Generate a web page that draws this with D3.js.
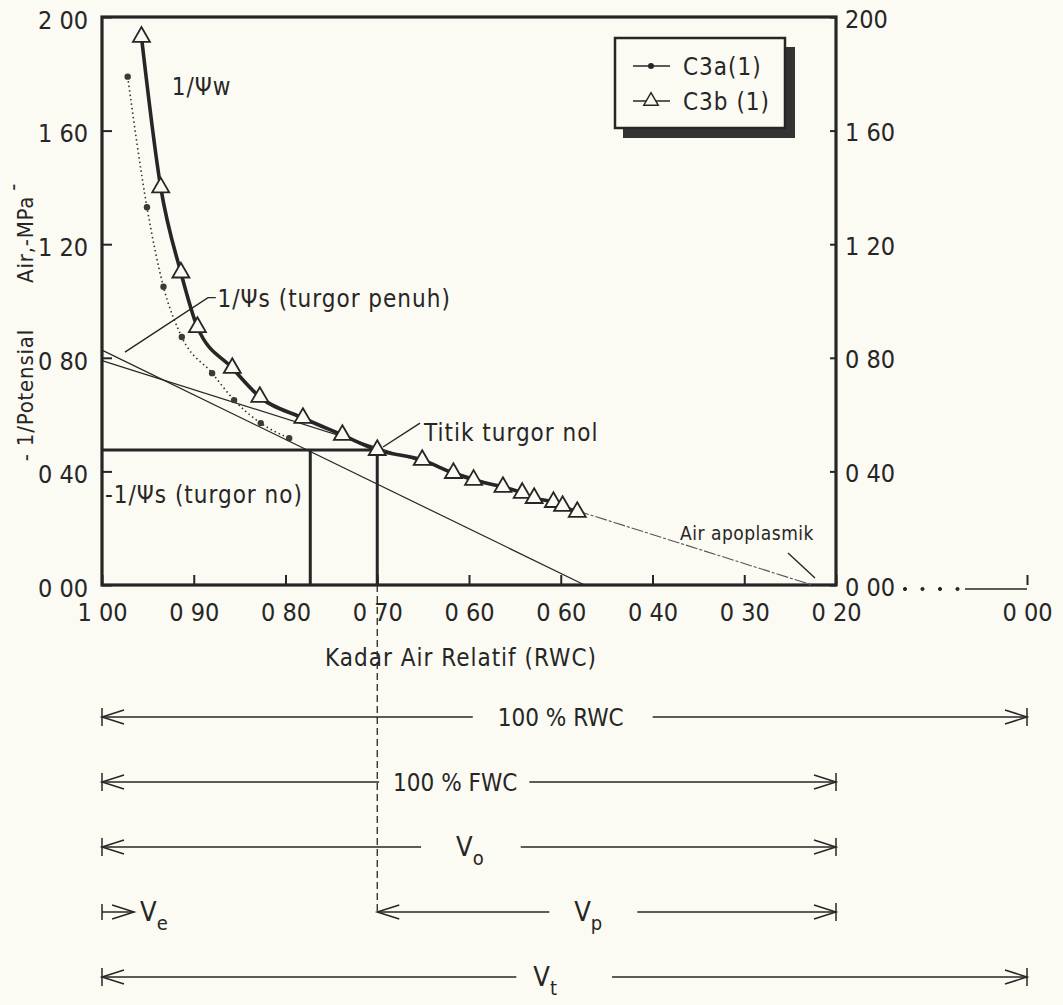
<!DOCTYPE html>
<html>
<head>
<meta charset="utf-8">
<title>Kurva tekanan-volume</title>
<script src="https://d3js.org/d3.v7.min.js"></script>
<style>
  body{margin:0;background:#fbfaf3;}
  svg{display:block;}
  text{font-family:"Liberation Sans Narrow","DejaVu Sans Condensed","Roboto Condensed",Roboto,sans-serif;fill:#262626;}
  .axis text{font-size:25px;}
  .lbl{font-size:24px;letter-spacing:1px;}
  .span{font-size:24px;}
  .small{font-size:19px;letter-spacing:0.5px;}
  .ylab{font-size:22px;letter-spacing:0.8px;}
</style>
</head>
<body>
<svg width="1063" height="1005"></svg>
<script>
// sumbu
var rwcTicks = [1.0, 0.9, 0.8, 0.7, 0.6, 0.5, 0.4, 0.3, 0.2, 0.0];
var rwcTickLabels = ['1 00', '0 90', '0 80', '0 70', '0 60', '0 60', '0 40', '0 30', '0 20', '0 00'];
var psiTicks = [0, 0.4, 0.8, 1.2, 1.6, 2.0];
var psiLeftLabels = ['0 00', '0 40', '0 80', '1 20', '1 60', '2 00'];
var psiRightLabels = ['0 00', '0 40', '0 80', '1 20', '1 60', '200'];

// C3a(1) - titik kecil, garis titik-titik
var c3aRwc = [0.972, 0.951, 0.933, 0.913, 0.880, 0.856, 0.827, 0.796];
var c3aPsi = [1.79, 1.33, 1.05, 0.873, 0.746, 0.651, 0.570, 0.517];

// C3b(1) - segitiga, garis tebal
var c3bRwc = [0.957, 0.936, 0.914, 0.896, 0.858, 0.828, 0.781, 0.738, 0.700, 0.651, 0.617, 0.595, 0.563, 0.542, 0.529, 0.508, 0.498, 0.482];
var c3bPsi = [1.93, 1.40, 1.10, 0.908, 0.764, 0.662, 0.588, 0.528, 0.475, 0.440, 0.394, 0.370, 0.345, 0.324, 0.306, 0.292, 0.278, 0.257];

// garis regresi
var fullTurgorRwc = [1.0, 0.474], fullTurgorPsi = [0.827, 0];
var apoplastRwc = [1.0, 0.226], apoplastPsi = [0.79, 0];

// titik turgor nol
var tlpRwc = 0.70, tlpPsi = 0.475, zeroTurgorRwc = 0.773;

// bentang volume di bawah grafik
var spanNames = ['100 % RWC', '100 % FWC', 'V', 'V', 'V', 'V'];
var spanSubs  = ['', '', 'o', 'e', 'p', 't'];
var spanFrom  = [1.00, 1.00, 1.00, 1.00, 0.70, 1.00];
var spanTo    = [0.00, 0.20, 0.20, 0.965, 0.20, 0.00];
var spanRow   = [0, 1, 2, 3, 3, 4];

var ink = '#262626';
var svg = d3.select('svg');
svg.append('rect').attr('width', 1063).attr('height', 1005).attr('fill', '#fbfaf3');

var x = d3.scaleLinear().domain([1.0, 0.2, 0.0]).range([102, 836, 1027]);
var y = d3.scaleLinear().domain([0, 2.0]).range([585, 17]);
var rowY = d3.scalePoint().domain([0, 1, 2, 3, 4]).range([717, 977]);

// bingkai
svg.append('rect')
  .attr('x', x(1)).attr('y', y(2))
  .attr('width', x(0.2) - x(1)).attr('height', y(0) - y(2))
  .attr('fill', 'none').attr('stroke', ink).attr('stroke-width', 3.2);

function styleAxis(g){
  g.select('.domain').remove();
  g.attr('font-family', null).attr('font-size', null);
  g.selectAll('line').attr('stroke', ink).attr('stroke-width', 2);
  g.selectAll('text').attr('fill', ink);
}

svg.append('g').attr('class', 'axis').attr('transform', 'translate(0,' + y(0) + ')')
  .call(d3.axisBottom(x).tickValues(rwcTicks).tickSize(-10).tickPadding(18)
    .tickFormat(function(d, i){ return rwcTickLabels[i]; }))
  .call(styleAxis);

svg.append('g').attr('class', 'axis').attr('transform', 'translate(' + x(1) + ',0)')
  .call(d3.axisLeft(y).tickValues(psiTicks).tickSize(-10).tickPadding(14)
    .tickFormat(function(d, i){ return psiLeftLabels[i]; }))
  .call(styleAxis)
  .selectAll('text').attr('dy', '0.45em');

svg.append('g').attr('class', 'axis').attr('transform', 'translate(' + x(0.2) + ',0)')
  .call(d3.axisRight(y).tickValues(psiTicks).tickSize(-6).tickPadding(9)
    .tickFormat(function(d, i){ return psiRightLabels[i]; }))
  .call(styleAxis)
  .selectAll('text').attr('dy', '0.4em');

// sambungan sumbu ke 0.00
var ext = svg.append('g').attr('stroke', ink);
ext.selectAll('circle').data(d3.range(4)).enter().append('circle')
  .attr('cx', function(d){ return x(0.2) + 69 + d * 17.5; })
  .attr('cy', y(0) + 4).attr('r', 1.6).attr('fill', ink);
ext.append('line').attr('x1', x(0) - 62).attr('x2', x(0))
  .attr('y1', y(0) + 4).attr('y2', y(0) + 4).attr('stroke-width', 1.5);

// garis regresi
var lineXY = d3.line().x(function(d){ return x(d[0]); }).y(function(d){ return y(d[1]); });
svg.append('path')
  .attr('d', lineXY(fullTurgorRwc.map(function(r, i){ return [r, fullTurgorPsi[i]]; })))
  .attr('fill', 'none').attr('stroke', ink).attr('stroke-width', 1.2);

var apo = d3.scaleLinear().domain(apoplastRwc).range(apoplastPsi);
var lastB = c3bRwc[c3bRwc.length - 1];
svg.append('path')
  .attr('d', lineXY([[apoplastRwc[0], apoplastPsi[0]], [lastB, apo(lastB)]]))
  .attr('fill', 'none').attr('stroke', ink).attr('stroke-width', 1.2);
svg.append('path')
  .attr('d', lineXY([[lastB, apo(lastB)], [apoplastRwc[1], apoplastPsi[1]]]))
  .attr('fill', 'none').attr('stroke', '#555').attr('stroke-width', 1.1)
  .attr('stroke-dasharray', '12,2,3,2');

// garis titik turgor nol
var tl = svg.append('g').attr('stroke', ink).attr('stroke-width', 3);
tl.append('line').attr('x1', x(1)).attr('x2', x(tlpRwc)).attr('y1', y(tlpPsi)).attr('y2', y(tlpPsi));
tl.append('line').attr('x1', x(tlpRwc)).attr('x2', x(tlpRwc)).attr('y1', y(tlpPsi)).attr('y2', y(0));
tl.append('line').attr('x1', x(zeroTurgorRwc)).attr('x2', x(zeroTurgorRwc)).attr('y1', y(tlpPsi)).attr('y2', y(0));

// seri
var curve = d3.line()
  .x(function(d){ return x(d.rwc); }).y(function(d){ return y(d.psi); })
  .curve(d3.curveMonotoneX);
var c3a = c3aRwc.map(function(r, i){ return {rwc: r, psi: c3aPsi[i]}; });
var c3b = c3bRwc.map(function(r, i){ return {rwc: r, psi: c3bPsi[i]}; });

svg.append('path').attr('d', curve(c3a)).attr('fill', 'none')
  .attr('stroke', '#333').attr('stroke-width', 1.6).attr('stroke-dasharray', '1.5,3');
svg.append('path').attr('d', curve(c3b)).attr('fill', 'none')
  .attr('stroke', ink).attr('stroke-width', 3.6);

svg.selectAll('.dotA').data(c3a).enter().append('circle').attr('class', 'dotA')
  .attr('cx', function(d){ return x(d.rwc); }).attr('cy', function(d){ return y(d.psi); })
  .attr('r', 3.2).attr('fill', '#3a3a3a');

var tri = d3.symbol().type(d3.symbolTriangle).size(125);
svg.selectAll('.triB').data(c3b).enter().append('path').attr('class', 'triB')
  .attr('d', tri)
  .attr('transform', function(d){ return 'translate(' + x(d.rwc) + ',' + y(d.psi) + ')'; })
  .attr('fill', '#fbfaf3').attr('stroke', ink).attr('stroke-width', 1.8);

// anotasi
function lbl(text, rwc, psi, cls){
  return svg.append('text').attr('class', cls || 'lbl').attr('x', x(rwc)).attr('y', y(psi)).text(text);
}
function leader(pts){
  svg.append('path').attr('d', lineXY(pts)).attr('fill', 'none').attr('stroke', ink).attr('stroke-width', 1.4);
}
lbl('1/Ψw', 0.924, 1.725);
leader([[0.975, 0.820], [0.8845, 1.012], [0.876, 1.012]]);
lbl('1/Ψs (turgor penuh)', 0.874, 0.979);
leader([[0.6937, 0.486], [0.6534, 0.570]]);
lbl('Titik turgor nol', 0.649, 0.507);
lbl('-1/Ψs (turgor no)', 0.9967, 0.29);
lbl('Air apoplasmik', 0.370, 0.158, 'small');
leader([[0.2523, 0.113], [0.2229, 0.025]]);

// judul sumbu
svg.append('text').attr('class', 'lbl').attr('x', 461).attr('y', 666)
  .attr('text-anchor', 'middle').text('Kadar Air Relatif (RWC)');
var yl = svg.append('text').attr('class', 'ylab')
  .attr('transform', 'translate(33,322) rotate(-90)').attr('text-anchor', 'middle');
yl.append('tspan').text('- 1/Potensial');
yl.append('tspan').attr('dx', 46).text('Air,-MPa');
yl.append('tspan').attr('dy', -13).attr('dx', 5).text('-');

// legenda
var lg = svg.append('g');
lg.append('rect').attr('x', 623).attr('y', 47).attr('width', 172).attr('height', 91).attr('fill', '#333');
lg.append('rect').attr('x', 615).attr('y', 38).attr('width', 170).attr('height', 90)
  .attr('fill', '#fbfaf3').attr('stroke', ink).attr('stroke-width', 2.5);
[66, 101].forEach(function(ly, i){
  lg.append('line').attr('x1', 633).attr('x2', 670).attr('y1', ly).attr('y2', ly).attr('stroke', ink).attr('stroke-width', 1.5);
  if (i === 0) lg.append('circle').attr('cx', 651).attr('cy', ly).attr('r', 3).attr('fill', ink);
  else lg.append('path').attr('d', d3.symbol().type(d3.symbolTriangle).size(90))
    .attr('transform', 'translate(651,' + ly + ')').attr('fill', '#fbfaf3').attr('stroke', ink).attr('stroke-width', 1.5);
  lg.append('text').attr('class', 'lbl').attr('x', 683).attr('y', ly + 9).text(i === 0 ? 'C3a(1)' : 'C3b (1)');
});

// bentang volume: posisi label dan jarak celah di kiri/kanan label
var labelAt = [0.50, 0.615, 0.599, null, 0.47, 0.517];
var padLeft  = [25, 14, 35, 0, 25, 17];
var padRight = [29, 12, 37, 0, 35, 55];

// garis putus-putus dari 0.70
svg.append('line').attr('x1', x(tlpRwc)).attr('x2', x(tlpRwc))
  .attr('y1', y(0)).attr('y2', rowY(3))
  .attr('stroke', ink).attr('stroke-width', 1.3).attr('stroke-dasharray', '7,4');

function head(g, px, py, dir, bar){
  g.append('path').attr('d', 'M' + (px + dir * 22) + ',' + (py - 7) + 'L' + px + ',' + py + 'L' + (px + dir * 22) + ',' + (py + 7))
    .attr('fill', 'none');
  if (bar) g.append('line').attr('x1', px).attr('x2', px).attr('y1', py - 9).attr('y2', py + 9);
}

spanNames.forEach(function(name, i){
  var g = svg.append('g').attr('stroke', ink).attr('stroke-width', 1.5);
  var ry = rowY(spanRow[i]);
  var x0 = x(spanFrom[i]), x1 = x(spanTo[i]);
  var t = svg.append('text').attr('class', 'span').style('font-size', spanSubs[i] ? '27px' : '24px');
  t.append('tspan').text(name);
  if (spanSubs[i]) t.append('tspan').attr('dy', 9).style('font-size', '20px').text(spanSubs[i]);
  if (labelAt[i] === null) {
    g.append('line').attr('x1', x0).attr('x2', x1).attr('y1', ry).attr('y2', ry);
    g.append('line').attr('x1', x0).attr('x2', x0).attr('y1', ry - 8).attr('y2', ry + 8);
    head(g, x1, ry, -1, false);
    t.attr('x', x1 + 6).attr('y', ry + 9);
    return;
  }
  t.attr('x', x(labelAt[i])).attr('y', ry + 9).attr('text-anchor', 'middle');
  var bb = t.node().getBBox();
  g.append('line').attr('x1', x0).attr('x2', bb.x - padLeft[i]).attr('y1', ry).attr('y2', ry);
  g.append('line').attr('x1', bb.x + bb.width + padRight[i]).attr('x2', x1).attr('y1', ry).attr('y2', ry);
  head(g, x0, ry, 1, spanFrom[i] === 1.0);
  head(g, x1, ry, -1, true);
});
</script>
</body>
</html>
